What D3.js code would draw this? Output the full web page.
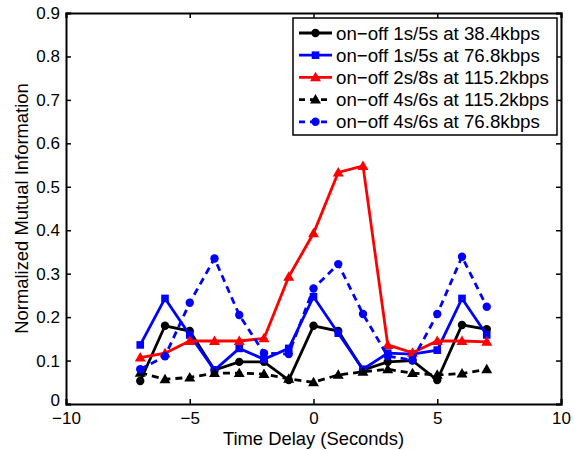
<!DOCTYPE html>
<html><head><meta charset="utf-8">
<script src="https://cdn.jsdelivr.net/npm/d3@7"></script>
<style>body{margin:0;background:#fff}svg{display:block}text{font-family:"Liberation Sans",Arial,sans-serif}</style>
</head><body>
<script>
const delays = [-7,-6,-5,-4,-3,-2,-1,0,1,2,3,4,5,6,7];
const onoff1s5s_384 = [0.053,0.180,0.168,0.078,0.097,0.097,0.055,0.180,0.168,0.078,0.097,0.100,0.055,0.182,0.172];
const onoff1s5s_768 = [0.136,0.243,0.159,0.078,0.128,0.103,0.128,0.247,0.163,0.080,0.117,0.115,0.124,0.243,0.159];
const onoff2s8s_1152 = [0.107,0.117,0.145,0.145,0.145,0.151,0.293,0.393,0.533,0.548,0.136,0.118,0.145,0.145,0.143];
const onoff4s6s_1152 = [0.072,0.057,0.061,0.071,0.071,0.069,0.058,0.050,0.067,0.074,0.080,0.071,0.067,0.070,0.080];
const onoff4s6s_768 = [0.080,0.110,0.233,0.335,0.205,0.117,0.115,0.266,0.322,0.207,0.110,0.101,0.207,0.339,0.224];
const seriesNames = ["on\u2212off 1s/5s at 38.4kbps","on\u2212off 1s/5s at 76.8kbps","on\u2212off 2s/8s at 115.2kbps","on\u2212off 4s/6s at 115.2kbps","on\u2212off 4s/6s at 76.8kbps"];
const xTicks = [-10,-5,0,5,10];
const yTicks = [0,0.1,0.2,0.3,0.4,0.5,0.6,0.7,0.8,0.9];

const series = [
  {name:seriesNames[0], values:onoff1s5s_384, color:"#000", marker:"circle", dash:null},
  {name:seriesNames[1], values:onoff1s5s_768, color:"#0000ff", marker:"square", dash:null},
  {name:seriesNames[2], values:onoff2s8s_1152, color:"#ff0000", marker:"triangle", dash:null},
  {name:seriesNames[3], values:onoff4s6s_1152, color:"#000", marker:"triangle", dash:"7,5"},
  {name:seriesNames[4], values:onoff4s6s_768, color:"#0000ff", marker:"circle", dash:"7,5"}
];

const W=574,H=450, L=66,R=561,T=13,B=404;
const FS=17, FL=18.7, FT=18.4;
const svg = d3.select("body").append("svg").attr("width",W).attr("height",H);
const x = d3.scaleLinear().domain([-10,10]).range([L,R]);
const y = d3.scaleLinear().domain([0,0.9]).range([B,T]);

function drawMarker(g, type, cx, cy, color){
  if(type==="circle") g.append("circle").attr("cx",cx).attr("cy",cy).attr("r",4.2).attr("fill",color);
  else if(type==="square") g.append("rect").attr("x",cx-3.8).attr("y",cy-3.8).attr("width",7.6).attr("height",7.6).attr("fill",color);
  else g.append("path").attr("d",d3.symbol().type(d3.symbolTriangle).size(52)()).attr("transform",`translate(${cx},${cy+0.8})`).attr("fill",color);
}

const line = d3.line().x((d,i)=>x(delays[i])).y(d=>y(d));
const plot = svg.append("g");
series.forEach(s=>{
  plot.append("path").datum(s.values).attr("d",line).attr("fill","none")
    .attr("stroke",s.color).attr("stroke-width",2.8).attr("stroke-linejoin","miter")
    .attr("stroke-dasharray",s.dash);
  s.values.forEach((v,i)=>drawMarker(plot,s.marker,x(delays[i]),y(v),s.color));
});

// axes with inward ticks
const axB = svg.append("g").attr("transform",`translate(0,${B})`).call(d3.axisBottom(x).tickValues(xTicks).tickSize(-5).tickPadding(8).tickFormat(d=>d<0?"\u2212"+Math.abs(d):d));
const axT = svg.append("g").attr("transform",`translate(0,${T})`).call(d3.axisTop(x).tickValues(xTicks).tickSize(-5).tickFormat(""));
const axL = svg.append("g").attr("transform",`translate(${L},0)`).call(d3.axisLeft(y).tickValues(yTicks).tickSize(-5).tickPadding(6).tickFormat(d=>d===0?"0":d3.format(".1f")(d)));
const axR = svg.append("g").attr("transform",`translate(${R},0)`).call(d3.axisRight(y).tickValues(yTicks).tickSize(-5).tickFormat(""));
[axB,axT,axL,axR].forEach(a=>{
  a.select(".domain").attr("stroke","#000").attr("stroke-width",2);
  a.selectAll(".tick line").attr("stroke","#000").attr("stroke-width",1.5);
  a.selectAll("text").attr("font-size",FS).attr("fill","#000").attr("font-family","Liberation Sans, Arial, sans-serif");
});
axL.selectAll(".tick text").filter(d=>d===0).attr("dy","0.1em");

svg.append("text").attr("x",(L+R)/2).attr("y",445).attr("text-anchor","middle").attr("font-size",FT).text("Time Delay (Seconds)");
svg.append("text").attr("transform",`translate(28,${(T+B)/2}) rotate(-90)`).attr("text-anchor","middle").attr("font-size",FT).text("Normalized Mutual Information");

// legend
const lg = svg.append("g");
lg.append("rect").attr("x",293).attr("y",18).attr("width",264).attr("height",117).attr("fill","#fff").attr("stroke","#000").attr("stroke-width",1.5);
series.forEach((s,i)=>{
  const cy = 33 + i*22.2;
  lg.append("line").attr("x1",299).attr("x2",332).attr("y1",cy).attr("y2",cy).attr("stroke",s.color).attr("stroke-width",2.8).attr("stroke-dasharray",s.dash?"6,5":null);
  drawMarker(lg,s.marker,315.5,cy,s.color);
  lg.append("text").attr("x",336).attr("y",cy).attr("dy","0.35em").attr("font-size",FL).text(s.name);
});
</script>
</body></html>
